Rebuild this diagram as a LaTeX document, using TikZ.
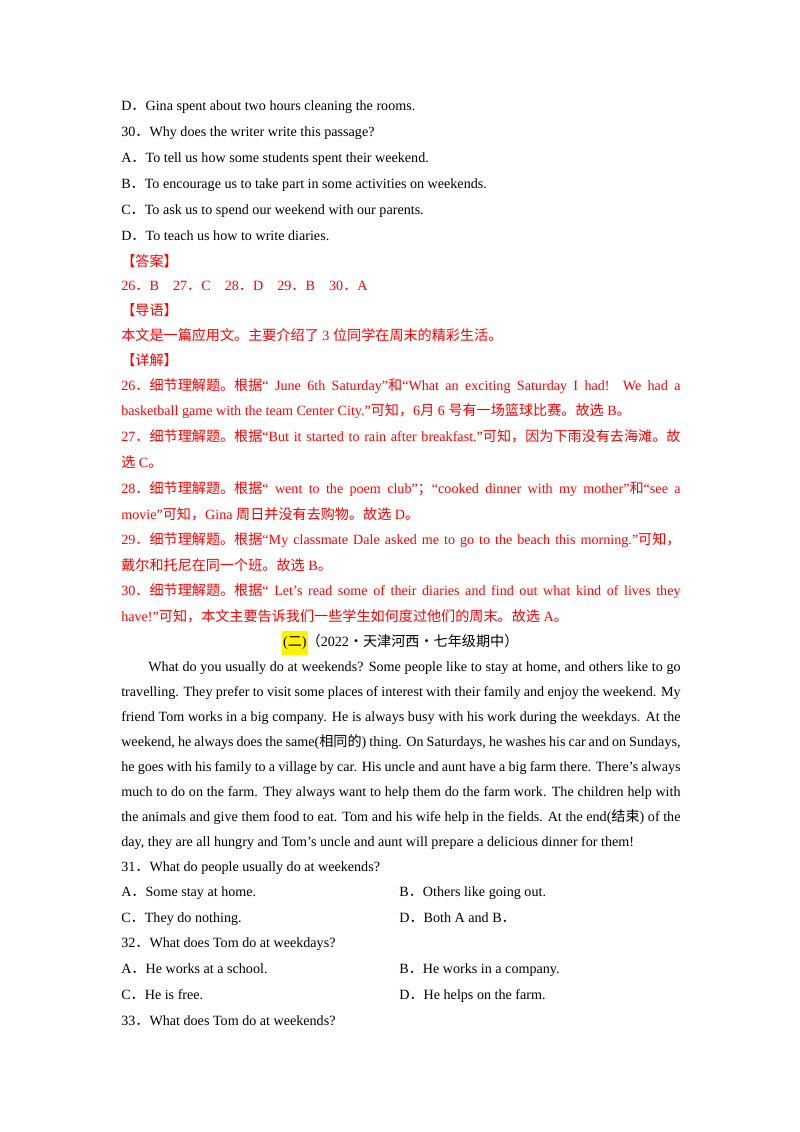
\documentclass[tikz,border=0pt]{standalone}
\usepackage{fontspec}
\setmainfont{Liberation Serif}
\newfontfamily\cj{Noto Sans CJK SC}
\definecolor{ans}{RGB}{255,0,0}
\newcommand{\dt}{{\cj ．}}
\begin{document}
\begin{tikzpicture}[x=1pt,y=-1pt,
  ln/.style={anchor=base west,inner sep=0pt,font=\fontsize{10.5}{12}\selectfont},
  rd/.style={ln,text=ans}]
\useasboundingbox (0,0) rectangle (595,842);
\def\s{0.744}
\def\W{416pt}
\node[ln] (l1) at (121*\s,110*\s) {D\dt Gina spent about two hours cleaning the rooms.};
\node[ln] (l2) at (121*\s,136*\s) {30\dt Why does the writer write this passage?};
\node[ln] (l3) at (121*\s,162*\s) {A\dt To tell us how some students spent their weekend.};
\node[ln] (l4) at (121*\s,188*\s) {B\dt To encourage us to take part in some activities on weekends.};
\node[ln] (l5) at (121*\s,214*\s) {C\dt To ask us to spend our weekend with our parents.};
\node[ln] (l6) at (121*\s,240*\s) {D\dt To teach us how to write diaries.};
\node[rd] (l7) at (121*\s,266*\s) {{\cj 【答案】}};
\node[rd] (l8) at (121*\s,290*\s) {26\dt B\quad 27\dt C\quad 28\dt D\quad 29\dt B\quad 30\dt A};
\node[rd] (l9) at (121*\s,315*\s) {{\cj 【导语】}};
\node[rd] (l10) at (121*\s,340*\s) {{\cj 本文是一篇应用文。主要介绍了} 3 {\cj 位同学在周末的精彩生活。}};
\node[rd] (l11) at (121*\s,365*\s) {{\cj 【详解】}};
\node[rd] (l12) at (121*\s,390*\s) {\hbox to \W{26\dt {\cj 细节理解题。根据}“ June 6th Saturday”{\cj 和}“What an exciting Saturday I had! We had a}};
\node[rd] (l13) at (121*\s,415*\s) {basketball game with the team Center City.”{\cj 可知，}6{\cj 月} 6 {\cj 号有一场篮球比赛。故选} B{\cj 。}};
\node[rd] (l14) at (121*\s,441*\s) {\hbox to \W{27\dt {\cj 细节理解题。根据}“But it started to rain after breakfast.”{\cj 可知，因为下雨没有去海滩。故}}};
\node[rd] (l15) at (121*\s,467*\s) {{\cj 选} C{\cj 。}};
\node[rd] (l16) at (121*\s,493*\s) {\hbox to \W{28\dt {\cj 细节理解题。根据}“ went to the poem club”{\cj ；}“cooked dinner with my mother”{\cj 和}“see a}};
\node[rd] (l17) at (121*\s,519*\s) {movie”{\cj 可知，}Gina {\cj 周日并没有去购物。故选} D{\cj 。}};
\node[rd] (l18) at (121*\s,544*\s) {\hbox to \W{29\dt {\cj 细节理解题。根据}“My classmate Dale asked me to go to the beach this morning.”{\cj 可知，}}};
\node[rd] (l19) at (121*\s,570*\s) {{\cj 戴尔和托尼在同一个班。故选} B{\cj 。}};
\node[rd] (l20) at (121*\s,595*\s) {\hbox to \W{30\dt {\cj 细节理解题。根据}“ Let’s read some of their diaries and find out what kind of lives they}};
\node[rd] (l21) at (121*\s,621*\s) {have!”{\cj 可知，本文主要告诉我们一些学生如何度过他们的周末。故选} A{\cj 。}};
\node[ln,anchor=base] (l22) at (400*\s,646*\s) {\colorbox{yellow}{\strut\kern-2pt(\cj 二\rmfamily)\kern-2pt}\kern-1pt{\cj （}2022{\cj ·天津河西·七年级期中）}};
\node[ln] (l23) at (148*\s,671*\s) {\hbox to 396pt{What do you usually do at weekends? Some people like to stay at home, and others like to go}};
\node[ln] (l24) at (121*\s,696*\s) {\hbox to \W{travelling. They prefer to visit some places of interest with their family and enjoy the weekend. My}};
\node[ln] (l25) at (121*\s,721*\s) {\hbox to \W{friend Tom works in a big company. He is always busy with his work during the weekdays. At the}};
\node[ln] (l26) at (121*\s,746*\s) {\hbox to \W{weekend, he always does the same({\cj 相同的}) thing. On Saturdays, he washes his car and on Sundays,}};
\node[ln] (l27) at (121*\s,771*\s) {\hbox to \W{he goes with his family to a village by car. His uncle and aunt have a big farm there. There’s always}};
\node[ln] (l28) at (121*\s,796*\s) {\hbox to \W{much to do on the farm. They always want to help them do the farm work. The children help with}};
\node[ln] (l29) at (121*\s,821*\s) {\hbox to \W{the animals and give them food to eat. Tom and his wife help in the fields. At the end({\cj 结束}) of the}};
\node[ln] (l30) at (121*\s,846*\s) {day, they are all hungry and Tom’s uncle and aunt will prepare a delicious dinner for them!};
\node[ln] (l31) at (121*\s,871*\s) {31\dt What do people usually do at weekends?};
\node[ln] (l32) at (121*\s,896*\s) {A\dt Some stay at home.};
\node[ln] (l33) at (399*\s,896*\s) {B\dt Others like going out.};
\node[ln] (l34) at (121*\s,922*\s) {C\dt They do nothing.};
\node[ln] (l35) at (399*\s,922*\s) {D\dt Both A and B\dt};
\node[ln] (l36) at (121*\s,947*\s) {32\dt What does Tom do at weekdays?};
\node[ln] (l37) at (121*\s,973*\s) {A\dt He works at a school.};
\node[ln] (l38) at (399*\s,973*\s) {B\dt He works in a company.};
\node[ln] (l39) at (121*\s,999*\s) {C\dt He is free.};
\node[ln] (l40) at (399*\s,999*\s) {D\dt He helps on the farm.};
\node[ln] (l41) at (121*\s,1025*\s) {33\dt What does Tom do at weekends?};
\end{tikzpicture}
\end{document}
